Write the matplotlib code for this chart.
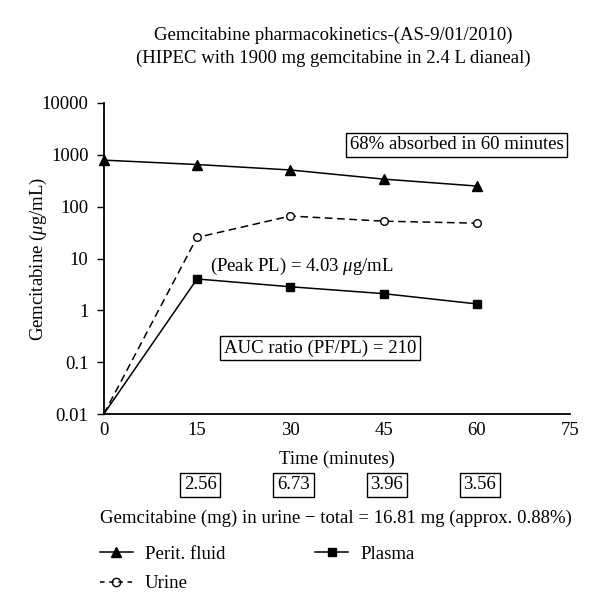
import matplotlib
matplotlib.use("Agg")
import matplotlib.pyplot as plt
from matplotlib.lines import Line2D
import matplotlib.transforms as mtransforms

plt.rcParams['font.family'] = ['Liberation Serif', 'DejaVu Serif']
plt.rcParams['mathtext.fontset'] = 'custom'
plt.rcParams['mathtext.it'] = 'Liberation Serif:italic'
plt.rcParams['mathtext.rm'] = 'Liberation Serif'

time_min = [0, 15, 30, 45, 60]
perit_fluid = [790, 650, 510, 340, 250]
urine = [0.01, 25.5, 66, 52.5, 48]
plasma = [0.01, 4.03, 2.85, 2.1, 1.33]
urine_mg_times = [15, 30, 45, 60]
urine_mg = ["2.56", "6.73", "3.96", "3.56"]
yticks = [0.01, 0.1, 1, 10, 100, 1000, 10000]
ytick_labels = ["0.01", "0.1", "1", "10", "100", "1000", "10000"]
xticks = [0, 15, 30, 45, 60, 75]

fig = plt.figure(figsize=(6.0, 6.13), dpi=100)
ax = fig.add_axes([0.173, 0.3246, 0.777, 0.5074])

fs = 13.5
ax.plot(time_min, perit_fluid, color='black', lw=1.1, marker='^', ms=6.5,
        markerfacecolor='black', clip_on=False)
ax.plot(time_min, urine, color='black', lw=1.1, ls=(0, (5, 3)), marker='o', ms=5.5,
        markerfacecolor='white', markevery=[1, 2, 3, 4], clip_on=False)
ax.plot(time_min, plasma, color='black', lw=1.1, marker='s', ms=6,
        markerfacecolor='black', markevery=[1, 2, 3, 4], clip_on=False)

ax.set_yscale('log')
ax.set_ylim(0.01, 10000)
ax.set_xlim(0, 75)
ax.set_yticks(yticks)
ax.set_yticklabels(ytick_labels, fontsize=fs)
ax.minorticks_off()
ax.set_xticks(xticks)
ax.set_xticklabels([str(t) for t in xticks], fontsize=fs)
ax.tick_params(axis='x', length=0, pad=6)
ax.tick_params(axis='y', length=5, width=1, direction='out', pad=6)
for s in ['top', 'right']:
    ax.spines[s].set_visible(False)
for s in ['left', 'bottom']:
    ax.spines[s].set_linewidth(1.3)

ax.set_xlabel("Time (minutes)", fontsize=fs, labelpad=8)
ax.set_ylabel(r"Gemcitabine ($\mathit{\mu}$g/mL)", fontsize=fs)
ax.yaxis.set_label_coords(-0.118, 0.5)

fig.text(0.555, 0.943, "Gemcitabine pharmacokinetics-(AS-9/01/2010)", ha='center', va='center', fontsize=fs)
fig.text(0.555, 0.905, "(HIPEC with 1900 mg gemcitabine in 2.4 L dianeal)", ha='center', va='center', fontsize=fs)

box = dict(boxstyle='square,pad=0.2', facecolor='white', edgecolor='black', lw=1)
ax.text(0.757, 0.865, "68% absorbed in 60 minutes", transform=ax.transAxes,
        ha='center', va='center', fontsize=fs, bbox=box)
ax.text(0.425, 0.475, r"(Peak PL) = 4.03 $\mathit{\mu}$g/mL", transform=ax.transAxes,
        ha='center', va='center', fontsize=fs)
ax.text(0.4635, 0.212, "AUC ratio (PF/PL) = 210", transform=ax.transAxes,
        ha='center', va='center', fontsize=fs, bbox=box)

trans = mtransforms.blended_transform_factory(ax.transData, ax.transAxes)
for t, v in zip(urine_mg_times, urine_mg):
    ax.text(t + 0.5, -0.228, v, transform=trans, ha='center', va='center',
            fontsize=fs, bbox=dict(boxstyle='square,pad=0.2', facecolor='white', edgecolor='black', lw=1),
            clip_on=False)

fig.text(0.56, 0.155, "Gemcitabine (mg) in urine \u2212 total = 16.81 mg (approx. 0.88%)",
         ha='center', va='center', fontsize=fs)

handles = [
    Line2D([], [], color='black', lw=1.1, marker='^', ms=6.5, markerfacecolor='black'),
    Line2D([], [], color='black', lw=1.1, marker='s', ms=6, markerfacecolor='black'),
    Line2D([], [], color='black', lw=1.1, ls=(0, (3, 3)), marker='o', ms=6, markerfacecolor='none'),
]
labels = ["Perit. fluid", "Plasma", "Urine"]
leg = fig.legend([handles[0], handles[2], handles[1]], [labels[0], labels[2], labels[1]],
                 ncol=2, loc='upper left', bbox_to_anchor=(0.154, 0.122),
                 frameon=False, fontsize=fs, handlelength=1.76, columnspacing=4.8,
                 labelspacing=0.66, handletextpad=0.64, borderaxespad=0)

fig.savefig("out.png", dpi=100)
